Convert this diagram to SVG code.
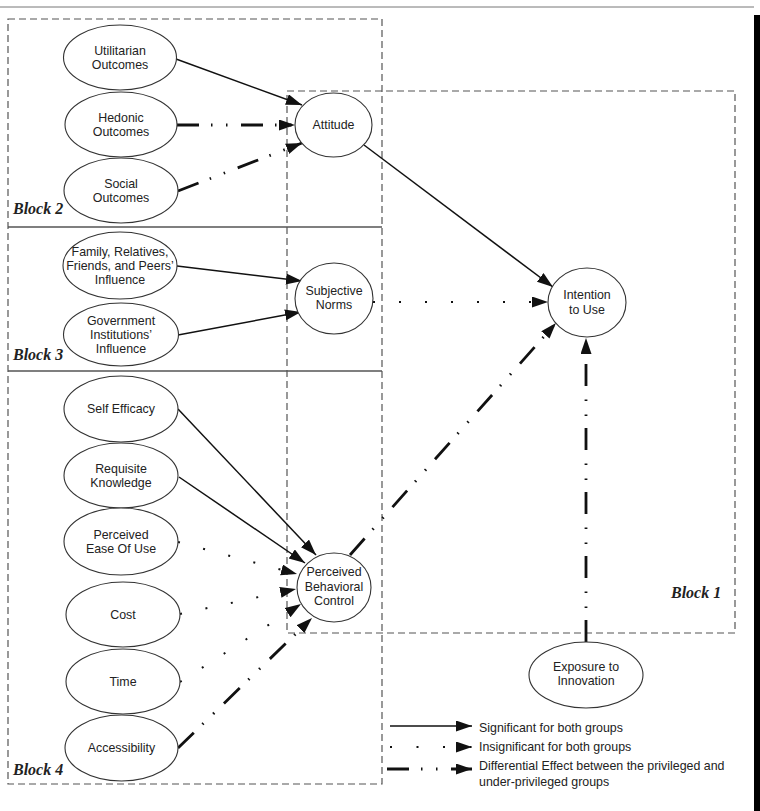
<svg xmlns="http://www.w3.org/2000/svg" width="760" height="811" viewBox="0 0 760 811">
<style>
.node ellipse{fill:#fff;stroke:#333;stroke-width:1.1}
.node text,.leg text{font-family:"Liberation Sans",Arial,sans-serif;font-size:12.4px;fill:#222;text-anchor:middle}
.leg text{text-anchor:start}
.blk{fill:none;stroke:#555;stroke-width:1.2;stroke-dasharray:7 4}
.sep{stroke:#555;stroke-width:1.5}
.lbl{font-family:"Liberation Serif","Times New Roman",serif;font-size:16px;font-weight:bold;font-style:italic;fill:#222}
.solid{fill:none;stroke:#111;stroke-width:1.5;marker-end:url(#ah)}
.dot{fill:none;stroke:#111;stroke-width:2;stroke-dasharray:2 24;marker-end:url(#ah)}
.dd{fill:none;stroke:#111;stroke-width:2.8;stroke-dasharray:22 12 1.5 13.5 1.5 13.5;marker-end:url(#ah)}
</style>
<defs>
<marker id="ah" markerUnits="userSpaceOnUse" markerWidth="17" markerHeight="12" refX="16" refY="5.5" orient="auto" viewBox="0 0 17 12">
<path d="M0,0 L16,5.5 L0,11 z" fill="#111"/>
</marker>
</defs>
<rect width="760" height="811" fill="#fff"/>
<line x1="0" y1="7" x2="754" y2="7" stroke="#777" stroke-width="1"/>
<rect x="754" y="15" width="6" height="796" fill="#000"/>

<g id="blocks">
<rect class="blk" x="8" y="19" width="374" height="765"/>
<line class="sep" x1="8" y1="227" x2="382" y2="227"/>
<line class="sep" x1="8" y1="371" x2="382" y2="371"/>
<rect class="blk" x="287" y="91" width="448" height="542"/>
<text class="lbl" x="13" y="214">Block 2</text>
<text class="lbl" x="13" y="360">Block 3</text>
<text class="lbl" x="13" y="775">Block 4</text>
<text class="lbl" x="671" y="598">Block 1</text>
</g>

<g id="connectors">
<path class="solid" d="M176,59 L302,105"/>
<path class="dd" d="M177,125 L295,125"/>
<path class="dd" d="M178,191 L302,143"/>
<path class="solid" d="M364,145 L553,287"/>
<path class="solid" d="M177,266 L302,281"/>
<path class="solid" d="M178,335 L301,312"/>
<path class="dot" d="M373,302 L548,302"/>
<path class="dd" d="M350,555 L556,323"/>
<path class="dd" d="M586,642 L586,338"/>
<path class="solid" d="M178,409 L316,555"/>
<path class="solid" d="M179,477 L305,563"/>
<path class="dot" d="M178,542 L297,574"/>
<path class="dot" d="M180,614 L296,589"/>
<path class="dot" d="M180,682 L301,604"/>
<path class="dd" d="M178,748 L312,618"/>
</g>

<g id="utilitarian" class="node"><ellipse cx="120" cy="57.5" rx="56.5" ry="32.5"/><text x="120" y="54.5">Utilitarian</text><text x="120" y="68.5">Outcomes</text></g>
<g id="hedonic" class="node"><ellipse cx="121" cy="124.5" rx="56" ry="32.5"/><text x="121" y="121.5">Hedonic</text><text x="121" y="135.5">Outcomes</text></g>
<g id="social" class="node"><ellipse cx="121" cy="190.5" rx="57" ry="32.5"/><text x="121" y="187.5">Social</text><text x="121" y="201.5">Outcomes</text></g>
<g id="attitude" class="node"><ellipse cx="333.5" cy="125" rx="38.5" ry="32"/><text x="333.5" y="129">Attitude</text></g>

<g id="family" class="node"><ellipse cx="120" cy="265.5" rx="57" ry="33.5"/><text x="120" y="256">Family, Relatives,</text><text x="120" y="270">Friends, and Peers’</text><text x="120" y="284">Influence</text></g>
<g id="government" class="node"><ellipse cx="121" cy="334.5" rx="57.5" ry="31.5"/><text x="121" y="325">Government</text><text x="121" y="339">Institutions’</text><text x="121" y="353">Influence</text></g>
<g id="subjective" class="node"><ellipse cx="334" cy="298.5" rx="39" ry="35.5"/><text x="334" y="295">Subjective</text><text x="334" y="309">Norms</text></g>

<g id="intention" class="node"><ellipse cx="587" cy="302.5" rx="39" ry="34.5"/><text x="587" y="299">Intention</text><text x="587" y="313.5">to Use</text></g>

<g id="selfefficacy" class="node"><ellipse cx="121" cy="409" rx="57" ry="33"/><text x="121" y="413">Self Efficacy</text></g>
<g id="requisite" class="node"><ellipse cx="121" cy="475.5" rx="57" ry="32.5"/><text x="121" y="472.5">Requisite</text><text x="121" y="486.5">Knowledge</text></g>
<g id="ease" class="node"><ellipse cx="121" cy="541.5" rx="57" ry="33.5"/><text x="121" y="538.5">Perceived</text><text x="121" y="552.5">Ease Of Use</text></g>
<g id="cost" class="node"><ellipse cx="123" cy="614.5" rx="57" ry="32.5"/><text x="123" y="618.5">Cost</text></g>
<g id="time" class="node"><ellipse cx="123" cy="681.5" rx="57" ry="32.5"/><text x="123" y="685.5">Time</text></g>
<g id="accessibility" class="node"><ellipse cx="121.5" cy="748" rx="56.5" ry="33"/><text x="121.5" y="752">Accessibility</text></g>
<g id="pbc" class="node"><ellipse cx="334" cy="587.5" rx="37" ry="34.5"/><text x="334" y="576">Perceived</text><text x="334" y="590.5">Behavioral</text><text x="334" y="605">Control</text></g>

<g id="exposure" class="node"><ellipse cx="586" cy="675" rx="57" ry="33"/><text x="586" y="671">Exposure to</text><text x="586" y="685">Innovation</text></g>

<g id="legend" class="leg">
<path class="solid" d="M390,726 L472,726"/>
<path class="dot" d="M390,747 L472,747" style="stroke-dasharray:2 24.5"/>
<path class="dd" d="M387,769 L472,769"/>
<text x="479" y="732">Significant for both groups</text>
<text x="479" y="751">Insignificant for both groups</text>
<text x="479" y="770">Differential Effect between the privileged and</text>
<text x="479" y="786">under-privileged groups</text>
</g>
</svg>
